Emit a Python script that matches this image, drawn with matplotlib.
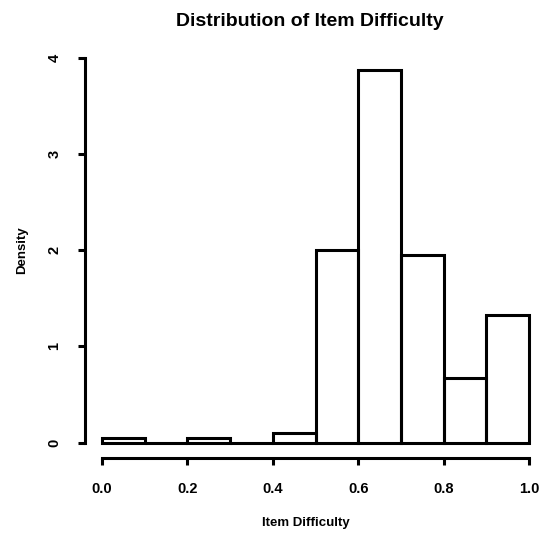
import matplotlib
matplotlib.use("Agg")
import matplotlib.pyplot as plt

plt.rcParams["font.family"] = ["Liberation Sans", "DejaVu Sans"]

# histogram of item difficulty (density, bin width 0.1)
bin_edges = [0.0, 0.1, 0.2, 0.3, 0.4, 0.5, 0.6, 0.7, 0.8, 0.9, 1.0]
density = [0.05, 0.0, 0.05, 0.0, 0.1, 2.0, 3.87, 1.95, 0.67, 1.33]

x_ticks = [0.0, 0.2, 0.4, 0.6, 0.8, 1.0]
x_tick_labels = ["0.0", "0.2", "0.4", "0.6", "0.8", "1.0"]
y_ticks = [0, 1, 2, 3, 4]

W, H = 539, 537
fig = plt.figure(figsize=(W / 100, H / 100), dpi=100)
# plot region in pixels (R style, 4% padding each side)
left, right, top, bottom = 85, 546, 42.6, 458
ax = fig.add_axes([left / W, (H - bottom) / H, (right - left) / W, (bottom - top) / H])

widths = [bin_edges[i + 1] - bin_edges[i] for i in range(len(density))]
ax.bar(bin_edges[:-1], density, width=widths, align="edge", fill=False,
       edgecolor="black", linewidth=2.2)

ax.set_xlim(-0.04, 1.04)
ax.set_ylim(-0.16, 4.16)

for s in ["top", "right"]:
    ax.spines[s].set_visible(False)
ax.spines["left"].set_bounds(0, 4)
ax.spines["bottom"].set_bounds(0, 1)
ax.spines["left"].set_linewidth(2.2)
ax.spines["bottom"].set_linewidth(2.2)

ax.set_xticks(x_ticks)
ax.set_xticklabels(x_tick_labels, fontsize=10.5, fontweight="bold")
ax.set_yticks(y_ticks)
ax.set_yticklabels([str(v) for v in y_ticks], fontsize=10.5, fontweight="bold",
                   rotation=90, va="center")
ax.tick_params(axis="both", direction="out", length=5, width=2.2, pad=12)

ax.set_xlabel("Item Difficulty", fontsize=9.5, fontweight="bold")
ax.xaxis.set_label_coords(0.48, -0.143)
ax.set_ylabel("Density", fontsize=9.5, fontweight="bold", labelpad=14)
fig.text(310 / W, 1 - 22 / H, "Distribution of Item Difficulty",
         ha="center", va="center", fontsize=14, fontweight="bold")

fig.savefig("out.png", dpi=100)
